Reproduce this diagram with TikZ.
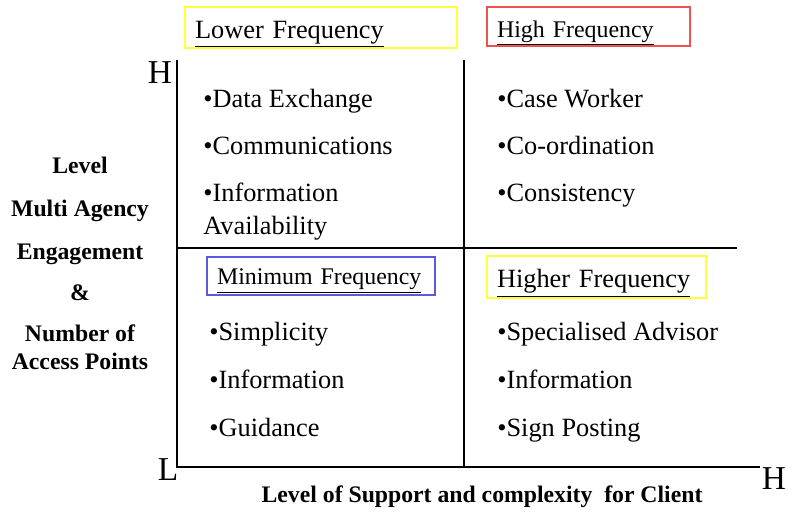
\documentclass[tikz,border=0pt]{standalone}
\usepackage{fontspec}
\setmainfont{Liberation Serif}
\usetikzlibrary{positioning}
\tikzset{
  osa/.style={line width=1pt},
  bod/.style={anchor=base west,inner sep=0pt,align=left,font=\fontsize{15}{18.6}\selectfont},
  ramec/.style={draw,line width=0.7pt,inner xsep=10pt*0.569,inner ysep=0pt,align=left,text depth=0pt},
  ramecV/.style={ramec,font=\fontsize{15}{18}\selectfont},
  ramecM/.style={ramec,font=\fontsize{13.6}{16}\selectfont},
  pismeno/.style={anchor=base,inner sep=0pt,font=\fontsize{19}{22}\selectfont},
  popis/.style={inner sep=0pt,align=center,font=\fontsize{13.5}{15.5}\selectfont\bfseries},
}
\definecolor{zluta}{RGB}{255,255,60}
\definecolor{cervena}{RGB}{240,80,80}
\definecolor{modra}{RGB}{90,90,220}

\begin{document}
\begin{tikzpicture}[x=0.02cm,y=-0.02cm]
  \useasboundingbox (0,0) rectangle (786,511);
  % osy
  \coordinate (O) at (177,467); \coordinate (Yh) at (177,60);
  \coordinate (Xh) at (760,467);
  \coordinate (Mh) at (464,60); \coordinate (Md) at (464,467);
  \coordinate (Sl) at (177,248); \coordinate (Sp) at (737,248);
  \draw[osa] (Yh)--(O)--(Xh);
  \draw[osa] (Mh)--(Md);
  \draw[osa] (Sl)--(Sp);
  \node[pismeno] (yH) at (160,83) {H};
  \node[pismeno] (yL) at (168,480) {L};
  \node[pismeno] (xH) at (774,489) {H};
  % ramecky
  \node[ramecV,draw=zluta,text width=5.04cm,minimum height=0.82cm,text height=12pt] (lf) at (321,27.5) {\underline{Lower Frequency}};
  \node[ramecM,draw=cervena,text width=3.66cm,minimum height=0.78cm,text height=12pt] (hf) at (588.5,26.5) {\underline{High Frequency}};
  \node[ramecM,draw=modra,text width=4.16cm,minimum height=0.76cm,text height=10pt] (mf) at (321,276) {\underline{Minimum Frequency}};
  \node[ramecV,draw=zluta,text width=3.98cm,minimum height=0.84cm,text height=12.4pt] (rf) at (596.5,277) {\underline{Higher Frequency}};
  % polozky
  \node[bod] (a1) at (203,107) {•Data Exchange};
  \node[bod] (a2) at (203,154) {•Communications};
  \node[bod] (a3) at (203,234) {•Information\\Availability};
  \node[bod] (b1) at (497,107) {•Case Worker};
  \node[bod] (b2) at (497,154) {•Co-ordination};
  \node[bod] (b3) at (497,201) {•Consistency};
  \node[bod] (c1) at (209,340) {•Simplicity};
  \node[bod] (c2) at (209,388) {•Information};
  \node[bod] (c3) at (209,436) {•Guidance};
  \node[bod] (d1) at (497,340) {•Specialised Advisor};
  \node[bod] (d2) at (497,388) {•Information};
  \node[bod] (d3) at (497,436) {•Sign Posting};
  % popisky
  \node[popis] (yl) at (80,263) {Level\\[9pt]Multi Agency\\[9pt]Engagement\\[8pt]\&\\[8pt]Number of\\Access Points};
  \node[popis,anchor=base] (xl) at (482,502) {Level of Support and complexity\ \ for Client};
\end{tikzpicture}
\end{document}
